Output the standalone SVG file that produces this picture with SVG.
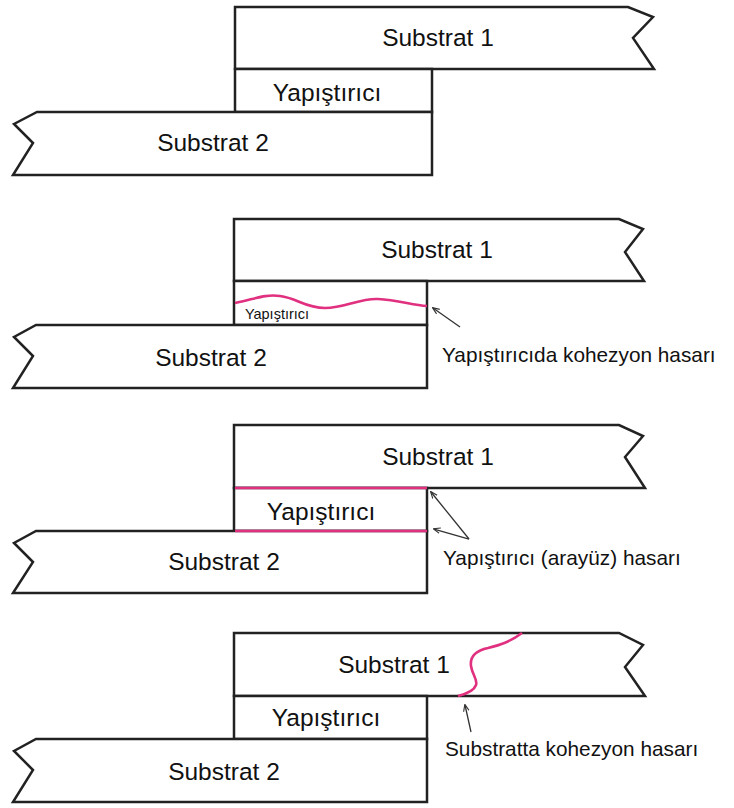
<svg xmlns="http://www.w3.org/2000/svg" width="734" height="808" viewBox="0 0 734 808">
<style>
.sh{fill:#fff;stroke:#222;stroke-width:2.5;stroke-linejoin:miter}
.t{font-family:"Liberation Sans",Arial,sans-serif;font-size:24.5px;fill:#111;text-anchor:middle}
.lb{font-family:"Liberation Sans",Arial,sans-serif;font-size:20.8px;fill:#111}
.pk{fill:none;stroke:#e0307f;stroke-width:2.6}
.ar{fill:none;stroke:#333;stroke-width:1.3;marker-end:url(#ah)}
</style>
<defs>
<marker id="ah" viewBox="0 0 10 10" refX="9" refY="5" markerWidth="7" markerHeight="7" markerUnits="userSpaceOnUse" orient="auto">
<path d="M0,1 L10,5 L0,9" fill="none" stroke="#333" stroke-width="1.6"/>
</marker>
</defs>
<rect width="734" height="808" fill="#fff"/>

<!-- Panel 1 -->
<g id="p1-substrat1"><path class="sh" d="M235,7 L628,7 L653,17 L633,38 L654,69 L235,69 Z"/><text class="t" x="438" y="46">Substrat 1</text></g>
<g id="p1-yapistirici"><rect class="sh" x="235" y="69" width="197" height="43"/><text class="t" x="327" y="101">Yapıştırıcı</text></g>
<g id="p1-substrat2"><path class="sh" d="M432,112 L37,112 L14,124 L33,143 L13,175 L432,175 Z"/><text class="t" x="213" y="151">Substrat 2</text></g>

<!-- Panel 2 -->
<g id="p2-substrat1"><path class="sh" d="M234,219 L619,219 L643,229 L625,252 L644,281 L234,281 Z"/><text class="t" x="437" y="258">Substrat 1</text></g>
<g id="p2-yapistirici"><rect class="sh" x="234" y="281" width="193" height="44"/><text x="277" y="319" style="font-family:'Liberation Sans',Arial,sans-serif;font-size:14.5px;fill:#111;text-anchor:middle">Yapıştırıcı</text></g>
<g id="p2-substrat2"><path class="sh" d="M427,325 L36,325 L14,337 L33,356 L13,388 L427,388 Z"/><text class="t" x="211" y="366">Substrat 2</text></g>
<path id="p2-crack" class="pk" d="M235,303 C255,299 265,294 280,296 C297,298 305,308 325,308 C345,308 360,298 378,299 C398,300 412,305 427,306"/>

<!-- Panel 3 -->
<g id="p3-substrat1"><path class="sh" d="M234,425 L619,425 L643,436 L625,457 L645,488 L234,488 Z"/><text class="t" x="438" y="465">Substrat 1</text></g>
<g id="p3-yapistirici"><rect class="sh" x="234" y="488" width="193" height="43"/><text class="t" x="321" y="520">Yapıştırıcı</text></g>
<g id="p3-substrat2"><path class="sh" d="M427,531 L36,531 L14,543 L33,562 L13,593 L427,593 Z"/><text class="t" x="224" y="570">Substrat 2</text></g>
<line class="pk" x1="235" y1="488" x2="427" y2="488"/>
<line class="pk" x1="235" y1="531" x2="427" y2="531"/>

<!-- Panel 4 -->
<g id="p4-substrat1"><path class="sh" d="M234,633 L619,633 L643,645 L625,667 L645,696 L234,696 Z"/><text class="t" x="394" y="673">Substrat 1</text></g>
<g id="p4-yapistirici"><rect class="sh" x="234" y="696" width="193" height="43"/><text class="t" x="326" y="726">Yapıştırıcı</text></g>
<g id="p4-substrat2"><path class="sh" d="M427,739 L36,739 L14,751 L33,770 L13,802 L427,802 Z"/><text class="t" x="224" y="780">Substrat 2</text></g>
<path id="p4-crack" class="pk" d="M522,633 C510,642 500,645 488,648 C474,651 470,658 471,666 C472,674 478,680 476,685 C474,691 466,694 458,696"/>

<!-- Connectors -->
<g id="connectors">
<line class="ar" x1="460" y1="327" x2="433" y2="308"/>
<line class="ar" x1="469" y1="539" x2="431" y2="492"/>
<line class="ar" x1="469" y1="539" x2="434" y2="529"/>
<line class="ar" x1="471" y1="732" x2="465" y2="705"/>
</g>

<!-- Labels -->
<text class="lb" x="442" y="362">Yapıştırıcıda kohezyon hasarı</text>
<text class="lb" x="443" y="565">Yapıştırıcı (arayüz) hasarı</text>
<text class="lb" x="445" y="756">Substratta kohezyon hasarı</text>
</svg>
